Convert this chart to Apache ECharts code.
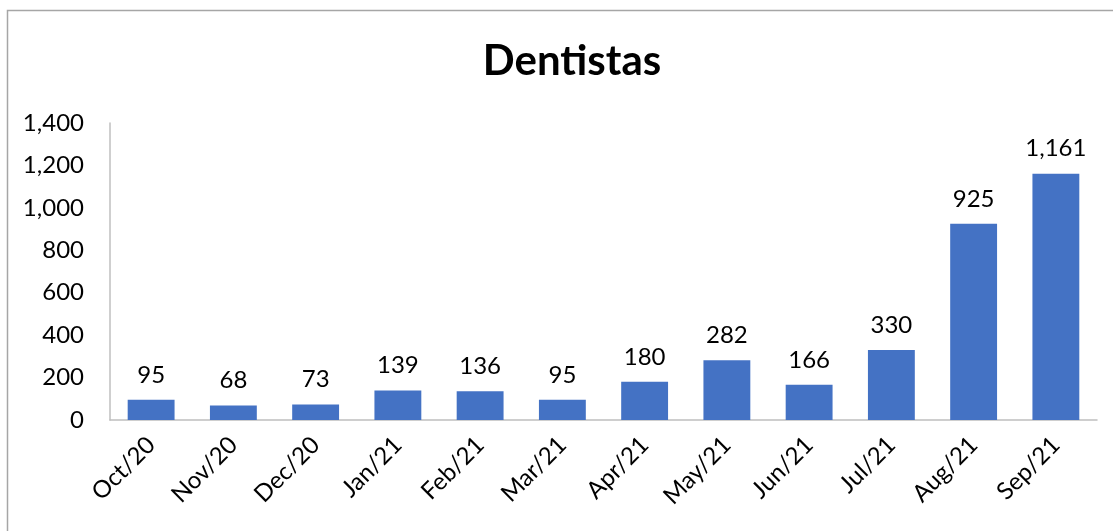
<!DOCTYPE html>
<html>
<head>
<meta charset="utf-8">
<script src="https://cdn.jsdelivr.net/npm/echarts@6/dist/echarts.min.js"></script>
<style>
  html, body { margin: 0; padding: 0; background: #fff; }
  #chart { width: 1113px; height: 531px; }
</style>
</head>
<body>
<div id="chart"></div>
<script>
const months = ['Oct/20', 'Nov/20', 'Dec/20', 'Jan/21', 'Feb/21', 'Mar/21',
                'Apr/21', 'May/21', 'Jun/21', 'Jul/21', 'Aug/21', 'Sep/21'];
const dentistas = [95, 68, 73, 139, 136, 95, 180, 282, 166, 330, 925, 1161];

const font = 'Lato, "Noto Sans", sans-serif';
const fmt = (v) => Number(v).toLocaleString('en-US');

const chart = echarts.init(document.getElementById('chart'));

chart.setOption({
  animation: false,
  backgroundColor: '#fff',
  graphic: [{
    type: 'rect',
    shape: { x: 7.5, y: 10.5, width: 1300, height: 700 },
    style: { fill: 'none', stroke: '#a6a6a6', lineWidth: 1.5 }
  }],
  title: {
    text: 'Dentistas',
    left: 567,
    top: 35,
    textAlign: 'center',
    textStyle: { fontFamily: font, fontSize: 42, fontWeight: 'bold', color: '#000' }
  },
  grid: { left: 110, right: 16, top: 123, bottom: 111 },
  xAxis: {
    type: 'category',
    data: months,
    axisLine: { lineStyle: { color: '#bfbfbf', width: 1.5 } },
    axisTick: { show: false },
    axisLabel: {
      rotate: 45,
      margin: 21,
      color: '#000',
      fontFamily: font,
      fontSize: 24
    }
  },
  yAxis: {
    type: 'value',
    min: 0,
    max: 1400,
    interval: 200,
    axisLine: { show: true, lineStyle: { color: '#bfbfbf', width: 1.5 } },
    axisTick: { show: false },
    splitLine: { show: false },
    axisLabel: {
      margin: 26,
      color: '#000',
      fontFamily: font,
      fontSize: 24,
      formatter: fmt
    }
  },
  series: [{
    name: 'Dentistas',
    type: 'bar',
    data: dentistas,
    barWidth: '57%',
    itemStyle: { color: '#4472C4' },
    label: {
      show: true,
      position: 'top',
      distance: 13,
      color: '#000',
      fontFamily: font,
      fontSize: 24,
      formatter: (p) => fmt(p.value)
    }
  }]
});
</script>
</body>
</html>
